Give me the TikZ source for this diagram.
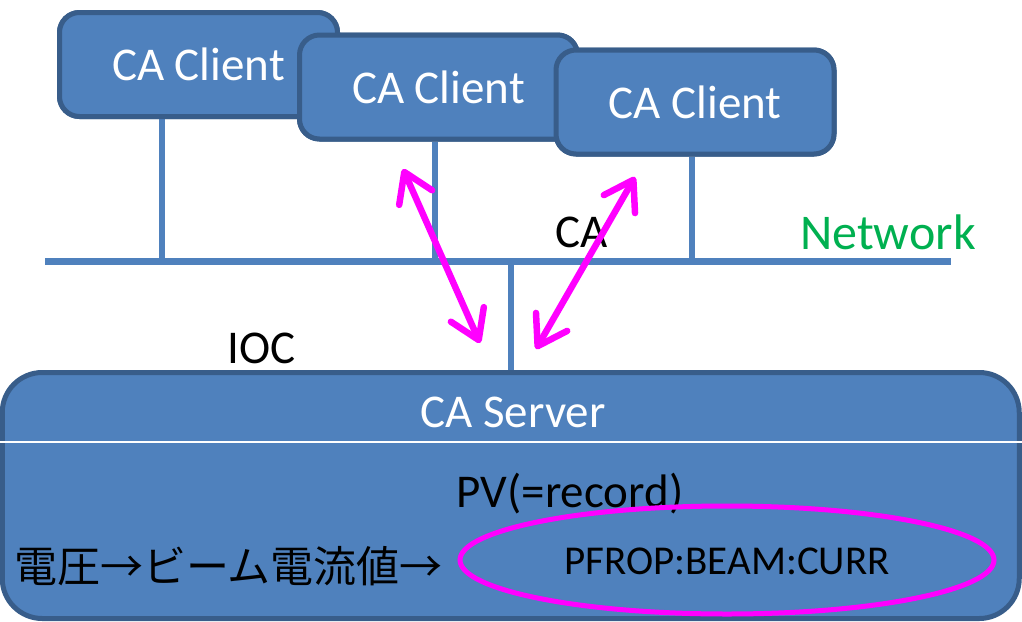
\documentclass[tikz,border=0pt]{standalone}
\usepackage{fontspec}
\setmainfont{Carlito}
\newfontfamily\jpfont{Noto Sans CJK JP}
\usetikzlibrary{arrows.meta,calc}
\definecolor{boxfill}{HTML}{4F81BD}
\definecolor{boxline}{HTML}{385D8A}
\definecolor{pvmag}{HTML}{FF00FF}
\definecolor{netgreen}{HTML}{00B050}
\tikzset{
  client/.style={draw=boxline, fill=boxfill, line width=5pt, rounded corners=20pt,
    minimum width=278pt, minimum height=104pt, inner sep=0pt, text=white,
    font=\fontsize{47}{56}\selectfont},
  server/.style={draw=boxline, fill=boxfill, line width=5pt, rounded corners=40pt,
    minimum width=1017pt, minimum height=246pt, inner sep=0pt},
  link/.style={draw=boxfill, line width=6pt},
  caarrow/.style={draw=pvmag, line width=6.5pt, line cap=round,
    {Straight Barb[length=28pt, width=36pt, round]}-{Straight Barb[length=28pt, width=36pt, round]}},
  label/.style={inner sep=0pt, font=\fontsize{47}{56}\selectfont}
}
\begin{document}
\begin{tikzpicture}[x=1pt, y=-1pt]
\useasboundingbox (0,0) rectangle (1022,621);

% network backbone and its ends
\coordinate (netL) at (45,261);
\coordinate (netR) at (951,261);

% server box (drawn first so the drop line meets its top edge)
\node[server] (srv) at (510.75,495.5) {};

% client boxes
\node[client] (c1) at (198.5,64.5) {};
\node[client] (c2) at (438.5,87) {};
\node[client] (c3) at (695,102) {};

% where each client drops to the backbone
\coordinate (d1) at ($(c1.south west)!0.372!(c1.south east)$);
\coordinate (d2) at ($(c2.south west)!0.487!(c2.south east)$);
\coordinate (d3) at ($(c3.south west)!0.491!(c3.south east)$);

% drops from the clients and to the server
\draw[link] (d1) -- (d1 |- netL);
\draw[link] (d2) -- (d2 |- netL);
\draw[link] (d3) -- (d3 |- netL);
\draw[link] (srv.north) -- (srv.north |- netL);
\draw[link, line width=7pt] (netL) -- (netR);

% redraw the client boxes on top, in stacking order
\node[client] at (c1) {CA Client};
\node[client] at (c2) {CA Client};
\node[client] at (c3) {CA Client};

% server contents
\node[label, text=white] (srvtitle) at (513,412) {CA Server};
\draw[white, line width=1.8pt] (srv.west |- 0,442) -- (srv.east |- 0,442);
\node[label] (pv) at (570,494) {PV(=record)};
\draw[pvmag, line width=5pt] (727,560) ellipse [x radius=267, y radius=54];
\node[inner sep=0pt, font=\fontsize{41}{49}\selectfont] (pvname) at (727,561) {PFROP:BEAM:CURR};
\node[inner sep=0pt, anchor=west, font=\jpfont\fontsize{43}{52}\selectfont] (chain) at (14,566) {電圧→ビーム電流値→};

% labels
\node[label] (ca) at (582,232) {CA};
\node[label] (ioc) at (262,348) {IOC};
\node[label, text=netgreen, font=\fontsize{50}{60}\selectfont] (net) at (888,232) {Network};

% channel access traffic
\coordinate (a1top) at (403,169);
\coordinate (a1bot) at (480,343);
\coordinate (a2top) at (635,177);
\coordinate (a2bot) at (536,349);
\draw[caarrow] (a1top) -- (a1bot);
\draw[caarrow] (a2top) -- (a2bot);
\end{tikzpicture}
\end{document}
